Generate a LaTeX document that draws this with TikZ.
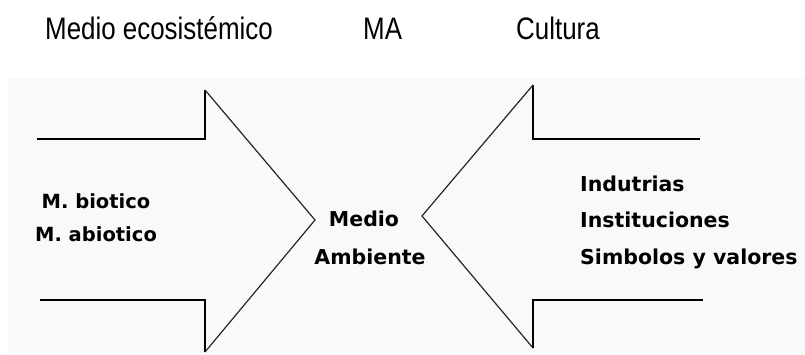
\documentclass[tikz,border=0pt]{standalone}
\usepackage{fontspec}
\setmainfont{Liberation Sans}
\newfontfamily\pixfont{DejaVu Sans}
\newcommand{\tallsc}[1]{\scalebox{0.96}[1.15]{#1}}
\begin{document}
\begin{tikzpicture}[x=1pt,y=-1pt,
  toplabel/.style={inner sep=0pt, font=\fontsize{27}{32}\selectfont},
  boxlabel/.style={inner sep=0pt, font=\pixfont\bfseries\fontsize{20.5}{36}\selectfont},
  sidelabel/.style={inner sep=0pt, font=\pixfont\bfseries\fontsize{19.5}{32}\selectfont},
  straight/.style={line width=1.7pt, black},
  slant/.style={line width=1.2pt, black!85},
  panel/.style={fill=black!2.5}
]
\useasboundingbox (0,0) rectangle (805,355);
\fill[panel] (8,78) rectangle (805,355);
% left arrow
\coordinate (ltl) at (37,139);
\coordinate (ltc) at (205,139);
\coordinate (ltt) at (205,90);
\coordinate (ltip) at (315,220);
\coordinate (lbt) at (205,352);
\coordinate (lbc) at (205,300);
\coordinate (lbl) at (40,300);
\draw[straight] (ltl) -- (ltc) -- (ltt);
\draw[slant] (ltt) -- (ltip) -- (lbt);
\draw[straight] (lbt) -- (lbc) -- (lbl);
% right arrow
\coordinate (rtr) at (700,139);
\coordinate (rtc) at (533,139);
\coordinate (rtt) at (533,85);
\coordinate (rtip) at (422,216);
\coordinate (rbt) at (533,348);
\coordinate (rbc) at (533,300);
\coordinate (rbr) at (703,300);
\draw[straight] (rtr) -- (rtc) -- (rtt);
\draw[slant] (rtt) -- (rtip) -- (rbt);
\draw[straight] (rbt) -- (rbc) -- (rbr);
% top labels
\node[toplabel, anchor=base west] (eco) at (45,40) {\tallsc{Medio ecosistémico}};
\node[toplabel, anchor=base west] (ma) at (363,40) {\tallsc{MA}};
\node[toplabel, anchor=base west] (cult) at (516,40) {\tallsc{Cultura}};
% inner labels
\node[sidelabel, anchor=base] (bio) at (96,209) {M. biotico};
\node[sidelabel, anchor=base] (abio) at (96,242) {M. abiotico};
\node[boxlabel, anchor=base] (medio) at (364,226) {Medio};
\node[boxlabel, anchor=base] (amb) at (370,264) {Ambiente};
\node[boxlabel, anchor=base west] (ind) at (580,192) {Indutrias};
\node[boxlabel, anchor=base west] (inst) at (580,228) {Instituciones};
\node[boxlabel, anchor=base west] (simb) at (580,264) {Simbolos y valores};
\end{tikzpicture}
\end{document}
